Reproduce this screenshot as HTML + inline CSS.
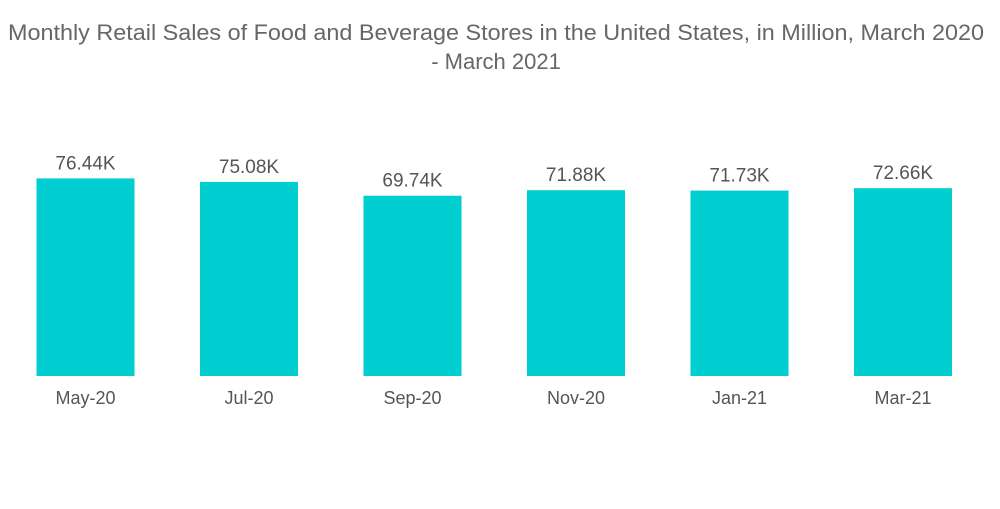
<!DOCTYPE html>
<html><head><meta charset="utf-8"><style>
body{margin:0;background:#fff;width:1000px;height:504px;overflow:hidden;font-family:"Liberation Sans",sans-serif;}
</style></head><body>
<svg width="1000" height="504">
<text x="496" y="40" text-anchor="middle" font-size="22" textLength="976" lengthAdjust="spacingAndGlyphs" fill="#666">Monthly Retail Sales of Food and Beverage Stores in the United States, in Million, March 2020</text>
<text x="496" y="69" text-anchor="middle" font-size="22" fill="#666">- March 2021</text>
<g id="bars"></g>
</svg>
<script>
const categories=["May-20","Jul-20","Sep-20","Nov-20","Jan-21","Mar-21"];
const values=[76.44,75.08,69.74,71.88,71.73,72.66];
const labels=["76.44K","75.08K","69.74K","71.88K","71.73K","72.66K"];
const ns="http://www.w3.org/2000/svg";
const base=376, k=2.585, x0=85.5, step=163.5, bw=98;
const yScale=v=>base-v*k;
const xScale=i=>x0+i*step;
const g=document.getElementById('bars');
values.forEach((v,i)=>{
  const r=document.createElementNS(ns,'rect');
  
  
  r.setAttribute('x',xScale(i)-bw/2);r.setAttribute('y',yScale(v));
  r.setAttribute('width',bw);r.setAttribute('height',base-yScale(v));
  r.setAttribute('fill','#00CED1');g.appendChild(r);
  const t=document.createElementNS(ns,'text');
  
  
  t.setAttribute('x',xScale(i));t.setAttribute('y',yScale(v)-9);
  t.setAttribute('text-anchor','middle');t.setAttribute('font-size','19');t.setAttribute('fill','#555');
  t.textContent=labels[i];g.appendChild(t);
  const c=document.createElementNS(ns,'text');
  
  
  c.setAttribute('x',xScale(i));c.setAttribute('y',404);
  c.setAttribute('text-anchor','middle');c.setAttribute('font-size','18');c.setAttribute('fill','#555');
  c.textContent=categories[i];g.appendChild(c);
});
</script>
</body></html>
